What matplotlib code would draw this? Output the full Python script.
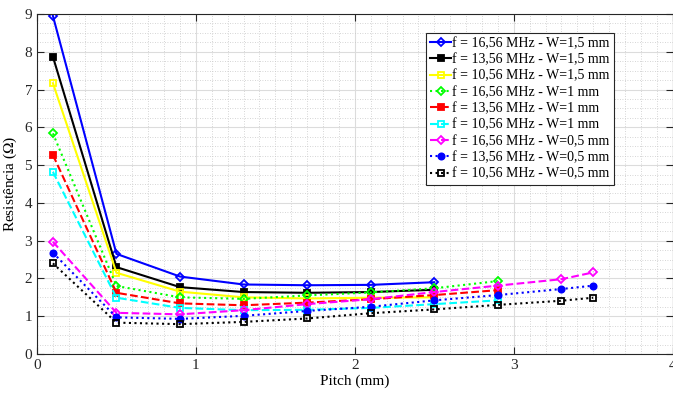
import numpy as np
import matplotlib
matplotlib.use('Agg')
import matplotlib.pyplot as plt
from matplotlib.ticker import MultipleLocator

plt.rcParams['font.family'] = ['Liberation Serif', 'DejaVu Serif']
plt.rcParams['mathtext.fontset'] = 'stix'

# pitch values (mm)
pitch_w15 = [0.1, 0.5, 0.9, 1.3, 1.7, 2.1, 2.5]
pitch_w10 = [0.1, 0.5, 0.9, 1.3, 1.7, 2.1, 2.5, 2.9]
pitch_w05 = [0.1, 0.5, 0.9, 1.3, 1.7, 2.1, 2.5, 2.9, 3.3, 3.5]

# resistance (ohm)
r_16_w15 = [8.95, 2.65, 2.05, 1.84, 1.82, 1.83, 1.90]
r_13_w15 = [7.87, 2.30, 1.77, 1.64, 1.62, 1.64, 1.70]
r_10_w15 = [7.17, 2.15, 1.65, 1.50, 1.47, 1.49, 1.50]
r_16_w10 = [5.84, 1.80, 1.50, 1.46, 1.55, 1.63, 1.74, 1.93]
r_13_w10 = [5.27, 1.62, 1.34, 1.29, 1.36, 1.45, 1.56, 1.69]
r_10_w10 = [4.82, 1.49, 1.22, 1.16, 1.17, 1.22, 1.32, 1.42]
r_16_w05 = [2.97, 1.09, 1.05, 1.16, 1.32, 1.45, 1.64, 1.81, 1.98, 2.16]
r_13_w05 = [2.68, 0.97, 0.93, 1.01, 1.14, 1.25, 1.42, 1.56, 1.72, 1.81]
r_10_w05 = [2.40, 0.83, 0.79, 0.85, 0.94, 1.08, 1.18, 1.30, 1.41, 1.49]

labels = ['f = 16,56 MHz - W=1,5 mm', 'f = 13,56 MHz - W=1,5 mm', 'f = 10,56 MHz - W=1,5 mm',
          'f = 16,56 MHz - W=1 mm', 'f = 13,56 MHz - W=1 mm', 'f = 10,56 MHz - W=1 mm',
          'f = 16,56 MHz - W=0,5 mm', 'f = 13,56 MHz - W=0,5 mm', 'f = 10,56 MHz - W=0,5 mm']

series = [
    (pitch_w15, r_16_w15, '#0000ff', '-', 'D', 'none'),
    (pitch_w15, r_13_w15, '#000000', '-', 's', 'full'),
    (pitch_w15, r_10_w15, '#ffff00', '-', 's', 'none'),
    (pitch_w10, r_16_w10, '#00ff00', ':', 'D', 'none'),
    (pitch_w10, r_13_w10, '#ff0000', '--', 's', 'full'),
    (pitch_w10, r_10_w10, '#00ffff', '--', 's', 'none'),
    (pitch_w05, r_16_w05, '#ff00ff', '--', 'D', 'none'),
    (pitch_w05, r_13_w05, '#0000ff', ':', 'o', 'full'),
    (pitch_w05, r_10_w05, '#000000', ':', 's', 'none'),
]

fig = plt.figure(figsize=(6.73, 4.0), dpi=100)
ax = fig.add_axes([0.055, 0.115, 0.9445, 0.85])

for (x, y, c, ls, mk, fill), lab in zip(series, labels):
    ax.plot(x, y, color=c, linestyle=ls, linewidth=1.5, marker=mk, markersize=4.5,
            fillstyle=fill, markerfacecolor=c if fill == 'full' else 'white',
            markeredgewidth=1.3, label=lab)

ax.set_xlim(0, 4)
ax.set_ylim(0, 9)
ax.xaxis.set_major_locator(MultipleLocator(1))
ax.xaxis.set_minor_locator(MultipleLocator(0.1))
ax.yaxis.set_major_locator(MultipleLocator(1))
ax.yaxis.set_minor_locator(MultipleLocator(0.25))
ax.grid(True, which='major', color='#dcdcdc', linewidth=0.8, linestyle='-')
ax.grid(True, which='minor', color='#c8c8c8', linewidth=0.6, linestyle=(0, (1, 2)))
ax.set_axisbelow(True)
ax.tick_params(which='both', direction='in', top=True, right=True, labelsize=11,
               colors='#262626')
ax.tick_params(which='major', length=5)
ax.tick_params(which='minor', length=0)
for s in ax.spines.values():
    s.set_color('#262626')
    s.set_linewidth(0.8)

ax.set_xlabel('Pitch (mm)', fontsize=11, labelpad=2)
ax.set_ylabel('Resistência ($\\Omega$)', fontsize=11, labelpad=4)

leg = ax.legend(loc='upper left', bbox_to_anchor=(0.612, 0.945), fontsize=10,
                frameon=True, fancybox=False, framealpha=1, edgecolor='#262626',
                handlelength=1.5, handletextpad=0.1, labelspacing=0.24,
                borderpad=0.3, borderaxespad=0)
leg.get_frame().set_linewidth(0.8)

fig.savefig('out.png', dpi=100)
